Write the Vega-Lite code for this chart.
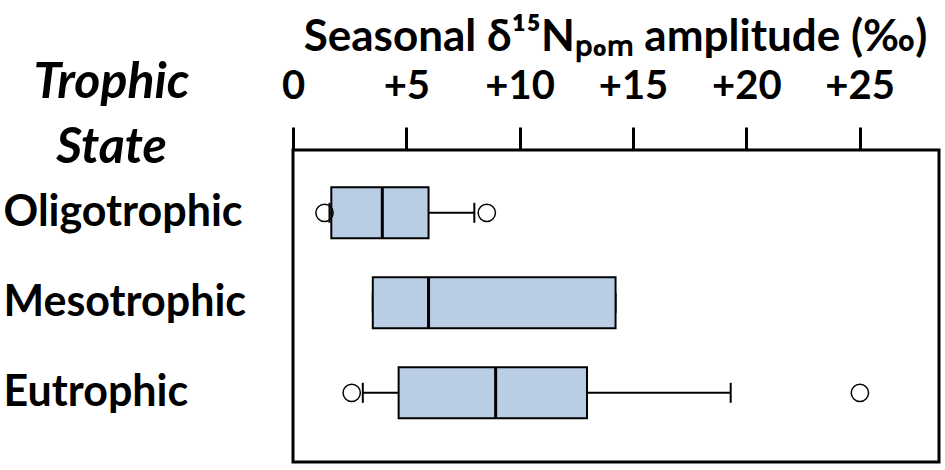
{
  "$schema": "https://vega.github.io/schema/vega-lite/v6.json",
  "autosize": "none",
  "width": 646,
  "height": 312,
  "padding": {"left": 293, "top": 150, "right": 6, "bottom": 8},
  "background": "white",
  "config": {
    "view": {"stroke": "black", "strokeWidth": 3},
    "font": "Lato"
  },
  "datasets": {
    "boxes": [
      {"state": "Oligotrophic", "lower": 1.61, "q1": 1.69, "median": 3.94, "q3": 5.98, "upper": 8.0},
      {"state": "Mesotrophic", "lower": 3.52, "q1": 3.52, "median": 5.98, "q3": 14.23, "upper": 14.23},
      {"state": "Eutrophic", "lower": 3.08, "q1": 4.66, "median": 8.94, "q3": 12.97, "upper": 19.31}
    ],
    "outliers": [
      {"state": "Oligotrophic", "value": 1.39},
      {"state": "Oligotrophic", "value": 8.55},
      {"state": "Eutrophic", "value": 2.59},
      {"state": "Eutrophic", "value": 25.01}
    ]
  },
  "encoding": {
    "y": {
      "field": "state",
      "type": "nominal",
      "sort": ["Oligotrophic", "Mesotrophic", "Eutrophic"],
      "scale": {"paddingInner": 0, "paddingOuter": 0.2333, "align": 0.424},
      "axis": {
        "orient": "left",
        "domain": false,
        "ticks": false,
        "tickSize": 0,
        "grid": false,
        "labelAlign": "left",
        "labelPadding": 290,
        "labelLimit": 0,
        "labelFont": "Lato",
        "labelFontWeight": "bold",
        "labelFontSize": 43,
        "labelColor": "black",
        "labelBaseline": "middle",
        "title": ["Trophic", "State"],
        "titleFont": "Lato",
        "titleFontWeight": "bold",
        "titleFontStyle": "italic",
        "titleFontSize": 50,
        "titleColor": "black",
        "titleAngle": 0,
        "titleAlign": "center",
        "titleBaseline": "alphabetic",
        "titleLineHeight": 65,
        "titleX": -182,
        "titleY": -53
      }
    }
  },
  "layer": [
    {
      "data": {"name": "boxes"},
      "mark": {"type": "rule", "color": "black", "strokeWidth": 2},
      "encoding": {
        "x": {
          "field": "lower",
          "type": "quantitative",
          "scale": {"domain": [0, 28.5], "nice": false, "zero": false},
          "axis": {
            "orient": "top",
            "values": [0, 5, 10, 15, 20, 25],
            "domain": false,
            "grid": false,
            "tickSize": 23,
            "tickWidth": 3,
            "tickColor": "black",
            "labelFlush": false,
            "labelOverlap": false,
            "labelFont": "Lato",
            "labelFontWeight": "bold",
            "labelFontSize": 40,
            "labelColor": "black",
            "labelBaseline": "alphabetic",
            "labelPadding": 29,
            "labelExpr": "datum.value == 0 ? '0' : '+' + datum.label",
            "title": "Seasonal δ¹⁵Nₚₒₘ amplitude (‰)",
            "titleFont": "Lato",
            "titleFontWeight": "bold",
            "titleFontSize": 44,
            "titleColor": "black",
            "titleAlign": "center",
            "titleBaseline": "alphabetic",
            "titleX": 322,
            "titleY": -100
          }
        },
        "x2": {"field": "upper"}
      }
    },
    {
      "data": {"name": "boxes"},
      "mark": {"type": "tick", "color": "black", "thickness": 2, "size": 20, "opacity": 1},
      "encoding": {"x": {"field": "lower", "type": "quantitative"}}
    },
    {
      "data": {"name": "boxes"},
      "mark": {"type": "tick", "color": "black", "thickness": 2, "size": 20, "opacity": 1},
      "encoding": {"x": {"field": "upper", "type": "quantitative"}}
    },
    {
      "data": {"name": "boxes"},
      "mark": {"type": "bar", "fill": "#B9CDE5", "stroke": "black", "strokeWidth": 2, "size": 51},
      "encoding": {
        "x": {"field": "q1", "type": "quantitative"},
        "x2": {"field": "q3"}
      }
    },
    {
      "data": {"name": "boxes"},
      "mark": {"type": "tick", "color": "black", "thickness": 3, "size": 51, "opacity": 1},
      "encoding": {"x": {"field": "median", "type": "quantitative"}}
    },
    {
      "data": {"name": "outliers"},
      "mark": {"type": "point", "shape": "circle", "filled": false, "stroke": "black", "strokeWidth": 1.5, "size": 300, "opacity": 1},
      "encoding": {"x": {"field": "value", "type": "quantitative"}}
    }
  ]
}
